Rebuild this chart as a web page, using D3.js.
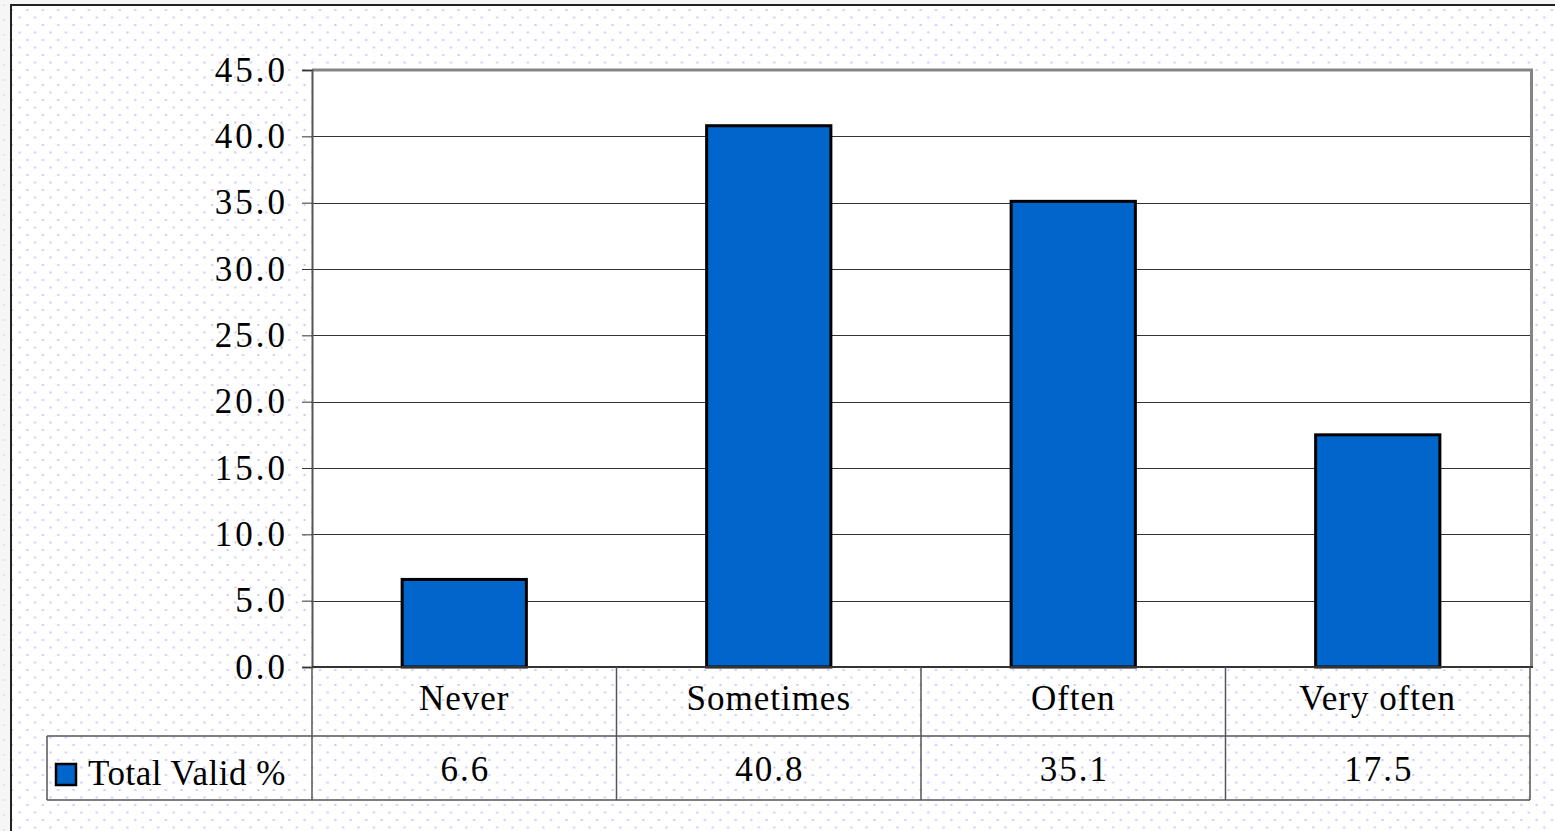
<!DOCTYPE html>
<html>
<head>
<meta charset="utf-8">
<script src="https://cdn.jsdelivr.net/npm/d3@7"></script>
<style>
	html, body { margin: 0; padding: 0; background: #f6f6f6; overflow: hidden; }
	svg { display: block; }
	text { font-family: "Liberation Serif", "Times New Roman", serif; fill: #000; }
</style>
</head>
<body>
<svg id="viz"></svg>
<script>
var categories = ["Never", "Sometimes", "Often", "Very often"];
var values = [6.6, 40.8, 35.1, 17.5];
var seriesName = "Total Valid %";
var yTicks = [0, 5, 10, 15, 20, 25, 30, 35, 40, 45];

var width = 1555,
	height = 831;
var plot = { left: 312, right: 1530, top: 70, bottom: 667 };
var tableRow1 = 736, tableBottom = 800, tableLeft = 47;
var barColor = "#0066cc";

var svg = d3.select("#viz").attr("width", width).attr("height", height);

var defs = svg.append("defs");
var dots = defs.append("pattern")
	.attr("id", "dots")
	.attr("patternUnits", "userSpaceOnUse")
	.attr("width", 15.4).attr("height", 15);
dots.append("rect").attr("width", 15.4).attr("height", 15).attr("fill", "#fff");
dots.append("rect").attr("x", 11).attr("y", 9).attr("width", 2).attr("height", 2).attr("fill", "#c9c9f7");
dots.append("rect").attr("x", 3.3).attr("y", 1.5).attr("width", 2).attr("height", 2).attr("fill", "#c9c9f7");

var greyDots = defs.append("pattern")
	.attr("id", "greyDots")
	.attr("patternUnits", "userSpaceOnUse")
	.attr("width", 15.4).attr("height", 15);
greyDots.append("rect").attr("width", 15.4).attr("height", 15).attr("fill", "#f6f6f6");
greyDots.append("rect").attr("x", 3).attr("y", 4).attr("width", 2).attr("height", 2).attr("fill", "#e2e2e2");

// outside strip + framed chart area
svg.append("rect").attr("width", width).attr("height", height).attr("fill", "url(#greyDots)");
svg.append("rect")
	.attr("x", 11).attr("y", 5)
	.attr("width", width).attr("height", height)
	.attr("fill", "url(#dots)")
	.attr("stroke", "#222").attr("stroke-width", 2);

var x = d3.scaleBand()
	.domain(categories)
	.range([plot.left, plot.right])
	.padding(0);
var y = d3.scaleLinear()
	.domain([0, 45])
	.range([plot.bottom, plot.top]);
var barW = x.bandwidth() * 0.408;

// plot background
svg.append("rect")
	.attr("x", plot.left).attr("y", plot.top)
	.attr("width", plot.right - plot.left).attr("height", plot.bottom - plot.top)
	.attr("fill", "#fff");

// gridlines
svg.append("g")
	.selectAll("line")
	.data(yTicks.filter(function(d){ return d > 0 && d < 45; }))
	.enter().append("line")
	.attr("x1", plot.left).attr("x2", plot.right)
	.attr("y1", function(d){ return Math.round(y(d)) + 0.5; })
	.attr("y2", function(d){ return Math.round(y(d)) + 0.5; })
	.attr("stroke", "#333").attr("stroke-width", 1);

// plot border (top / right)
svg.append("path")
	.attr("d", "M" + plot.left + "," + plot.top + "H" + (plot.right + 1.5) + "V" + plot.bottom)
	.attr("fill", "none").attr("stroke", "#848484").attr("stroke-width", 3);

// bars
svg.append("g")
	.selectAll("rect")
	.data(values)
	.enter().append("rect")
	.attr("x", function(d, i){ return x(categories[i]) + (x.bandwidth() - barW) / 2; })
	.attr("y", function(d){ return y(d); })
	.attr("width", barW)
	.attr("height", function(d){ return y(0) - y(d); })
	.attr("fill", barColor)
	.attr("stroke", "#000").attr("stroke-width", 3);

// y axis
var yAxis = d3.axisLeft(y)
	.tickValues(yTicks)
	.tickFormat(d3.format(".1f"))
	.tickSize(10)
	.tickPadding(17);
var gy = svg.append("g")
	.attr("transform", "translate(" + plot.left + ",0)")
	.call(yAxis);
gy.select(".domain").attr("stroke", "#555").attr("stroke-width", 2);
gy.selectAll(".tick line").attr("stroke", "#333");
gy.selectAll(".tick text")
	.style("font-family", "'Liberation Serif', serif")
	.style("font-size", "35px")
	.style("letter-spacing", "3px")
	.attr("dx", "3px")
	.attr("dy", "0.32em")
	.attr("fill", "#000");

// x axis baseline
svg.append("line")
	.attr("x1", plot.left).attr("x2", plot.right + 3)
	.attr("y1", plot.bottom).attr("y2", plot.bottom)
	.attr("stroke", "#333").attr("stroke-width", 2);

// data table
var table = svg.append("g").attr("stroke", "#555").attr("stroke-width", 1.5).attr("fill", "none");
var colEdges = x.domain().map(function(c){ return x(c); }).concat([plot.right]);
table.selectAll("line.v")
	.data(colEdges)
	.enter().append("line")
	.attr("x1", function(d){ return d; }).attr("x2", function(d){ return d; })
	.attr("y1", plot.bottom).attr("y2", tableBottom);
table.append("line")
	.attr("x1", tableLeft).attr("x2", plot.right)
	.attr("y1", tableRow1).attr("y2", tableRow1);
table.append("line")
	.attr("x1", tableLeft).attr("x2", plot.right)
	.attr("y1", tableBottom).attr("y2", tableBottom);
table.append("line")
	.attr("x1", tableLeft).attr("x2", tableLeft)
	.attr("y1", tableRow1).attr("y2", tableBottom);

svg.append("g")
	.selectAll("text")
	.data(categories)
	.enter().append("text")
	.attr("x", function(d){ return x(d) + x.bandwidth() / 2; })
	.attr("y", 710)
	.attr("text-anchor", "middle")
	.style("font-size", "35px")
	.style("letter-spacing", "1px")
	.text(function(d){ return d; });

svg.append("g")
	.selectAll("text")
	.data(values)
	.enter().append("text")
	.attr("x", function(d, i){ return x(categories[i]) + x.bandwidth() / 2 + 1; })
	.attr("y", 781)
	.attr("text-anchor", "middle")
	.style("font-size", "35px")
	.style("letter-spacing", "2px")
	.text(function(d){ return d3.format(".1f")(d); });

// legend key in the table
svg.append("rect")
	.attr("x", 56).attr("y", 764)
	.attr("width", 20).attr("height", 21)
	.attr("fill", barColor)
	.attr("stroke", "#000").attr("stroke-width", 2.5);
svg.append("text")
	.attr("x", 88).attr("y", 785)
	.style("font-size", "35px")
	.style("letter-spacing", "0.5px")
	.text(seriesName);
</script>
</body>
</html>
